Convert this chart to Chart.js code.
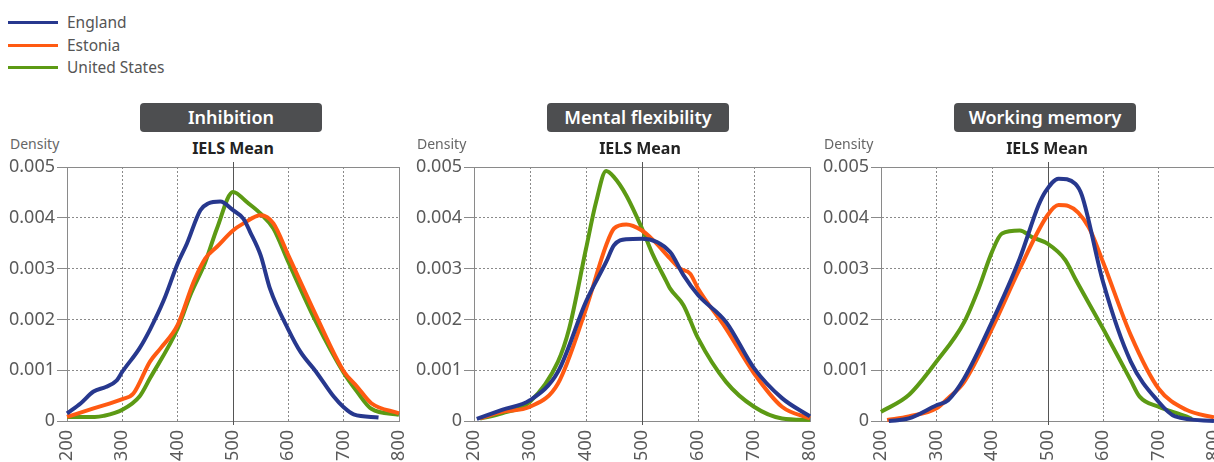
<!DOCTYPE html>
<html>
<head>
<meta charset="utf-8">
<script src="https://cdn.jsdelivr.net/npm/chart.js@4.4.0/dist/chart.umd.min.js"></script>
<style>
html,body{margin:0;padding:0;background:#fff;overflow:hidden;}
body{width:1214px;height:462px;position:relative;font-family:"Noto Sans",sans-serif;}
.leg{position:absolute;left:8px;font-size:15.5px;color:#555;height:20px;line-height:20px;}
.leg i{position:absolute;left:0;top:9px;width:50px;height:3px;}
.leg span{position:absolute;left:59px;top:0;white-space:nowrap;}
.box{position:absolute;top:103px;width:182px;height:29px;line-height:28px;background:#4d4e50;border-radius:4px;color:#fff;font-size:18px;font-weight:600;text-align:center;}
.sub{position:absolute;top:137px;width:200px;text-align:center;font-weight:bold;font-size:16px;color:#222;}
.dens{position:absolute;top:134px;font-size:14px;color:#666;}
canvas{position:absolute;}
</style>
</head>
<body>
<div id="legend"></div>
<div id="panels"></div>
<script>
// valeurs (densité)
const seriesNames = ['England', 'Estonia', 'United States'];
const seriesColors = ['#27388e', '#ff5a12', '#5c9a14'];
const panelTitles = ['Inhibition', 'Mental flexibility', 'Working memory'];
const xTicks = [200, 300, 400, 500, 600, 700, 800];
const yTicks = [0, 0.001, 0.002, 0.003, 0.004, 0.005];

// Inhibition
const inhEngX = [200,225,248,270,290,300,331,350,375,400,417,441,455,477,500,519,531,550,567,600,622,650,682,700,718,763];
const inhEngY = [0.00015,0.00035,0.00058,0.00067,0.0008,0.00097,0.00143,0.0018,0.00238,0.0031,0.0035,0.00415,0.00428,0.00432,0.00415,0.00398,0.00372,0.00326,0.0026,0.0018,0.00136,0.00097,0.00048,0.00027,0.00013,0.00007];
const inhEstX = [200,248,300,320,350,369,400,429,450,471,500,519,550,573,600,650,700,724,750,800];
const inhEstY = [0.00008,0.00025,0.00043,0.00054,0.00117,0.00143,0.00189,0.00274,0.0032,0.00343,0.00375,0.00389,0.00405,0.00389,0.00326,0.00208,0.00098,0.00068,0.00035,0.00015];
const inhUsaX = [200,250,266,300,331,350,400,423,450,471,500,507,525,550,573,600,650,700,724,750,800];
const inhUsaY = [0.00008,0.00008,0.0001,0.00022,0.00048,0.00084,0.00182,0.00248,0.00313,0.00379,0.00451,0.00448,0.00431,0.00408,0.00379,0.00313,0.00195,0.00095,0.00058,0.00024,0.00012];

// Mental flexibility
const menEngX = [205,250,300,350,400,436,450,472,500,550,574,600,650,700,750,800];
const menEngY = [0.00004,0.00022,0.00041,0.00097,0.00235,0.00313,0.00346,0.00358,0.00359,0.00333,0.00287,0.00248,0.00195,0.00104,0.00045,0.00009];
const menEstX = [211,250,300,350,400,436,450,472,500,520,550,568,586,600,650,700,750,800];
const menEstY = [0.00005,0.00018,0.00028,0.00074,0.00221,0.00346,0.00379,0.00387,0.00375,0.00356,0.0032,0.003,0.0029,0.00261,0.00182,0.00094,0.00028,0.00005];
const menUsaX = [211,250,300,350,370,400,418,436,450,472,500,520,544,550,574,600,650,700,750,800];
const menUsaY = [0.00005,0.00015,0.00038,0.00117,0.00182,0.00339,0.00431,0.00492,0.0048,0.00444,0.00379,0.00326,0.00274,0.00261,0.00228,0.00163,0.00077,0.00028,0.00005,0.00002];

// Working memory
const worEngX = [214,250,300,321,350,400,450,484,496,520,550,562,600,650,700,730,800];
const worEngY = [0,0.00005,0.00031,0.00041,0.00084,0.00195,0.0032,0.00425,0.00451,0.00477,0.00467,0.00444,0.00274,0.00117,0.00038,0.00009,0];
const worEstX = [211,250,300,321,350,400,450,500,520,538,574,600,650,700,750,800];
const worEstY = [0.00002,0.00009,0.00025,0.00045,0.00077,0.00182,0.003,0.00405,0.00425,0.00423,0.00382,0.00313,0.00169,0.00064,0.00022,0.00007];
const worUsaX = [200,250,300,350,376,400,418,450,472,500,532,550,600,650,666,700,750,760];
const worUsaY = [0.00018,0.00051,0.00117,0.00195,0.00261,0.00333,0.00369,0.00375,0.00362,0.00349,0.00317,0.0028,0.00182,0.0008,0.00048,0.00028,0.00009,0.00004];

const panelSeries = [
  [[inhEngX, inhEngY], [inhEstX, inhEstY], [inhUsaX, inhUsaY]],
  [[menEngX, menEngY], [menEstX, menEstY], [menUsaX, menUsaY]],
  [[worEngX, worEngY], [worEstX, worEstY], [worUsaX, worUsaY]]
];

// légende
const legend = document.getElementById('legend');
seriesNames.forEach((n, i) => {
  const d = document.createElement('div');
  d.className = 'leg';
  d.style.top = (12 + i * 22.5) + 'px';
  d.innerHTML = '<i style="background:' + seriesColors[i] + '"></i><span>' + n + '</span>';
  legend.appendChild(d);
});

// cadre + ligne 500
const framePlugin = {
  id: 'frame',
  beforeDatasetsDraw(chart) {
    const a = chart.chartArea, ctx = chart.ctx, xs = chart.scales.x;
    ctx.save();
    ctx.strokeStyle = '#8a8a8a';
    ctx.lineWidth = 1;
    ctx.setLineDash([]);
    ctx.strokeRect(a.left + 0.5, a.top + 0.5, a.right - a.left, a.bottom - a.top);
    const x5 = Math.round(xs.getPixelForValue(500)) + 0.5;
    ctx.strokeStyle = '#555';
    ctx.beginPath();
    ctx.moveTo(x5, a.top - 5);
    ctx.lineTo(x5, a.bottom + 4);
    ctx.stroke();
    ctx.restore();
  }
};

const panels = document.getElementById('panels');
const offs = [0, 407, 814];
panelTitles.forEach((t, p) => {
  const o = offs[p];
  const box = document.createElement('div');
  box.className = 'box'; box.style.left = (140 + o) + 'px'; box.textContent = t;
  panels.appendChild(box);
  const sub = document.createElement('div');
  sub.className = 'sub'; sub.style.left = (133 + o) + 'px'; sub.textContent = 'IELS Mean';
  panels.appendChild(sub);
  const den = document.createElement('div');
  den.className = 'dens'; den.style.left = (10 + o) + 'px'; den.textContent = 'Density';
  panels.appendChild(den);

  const cv = document.createElement('canvas');
  const w = p === 2 ? 402 : 410;
  cv.width = w; cv.height = 320;
  cv.style.left = (p === 0 ? 0 : o - 2) + 'px';
  cv.style.top = '150px';
  cv.style.width = w + 'px'; cv.style.height = '320px';
  panels.appendChild(cv);

  const yw = p === 0 ? 67 : 69;
  const padR = p === 0 ? 11 : (p === 1 ? 5 : 0);

  new Chart(cv.getContext('2d'), {
    type: 'line',
    data: {
      datasets: panelSeries[p].map((s, i) => ({
        label: seriesNames[i],
        data: s[0].map((x, k) => ({ x: x, y: s[1][k] })),
        borderColor: seriesColors[i],
        borderWidth: 4,
        pointRadius: 0,
        fill: false,
        cubicInterpolationMode: 'monotone',
        clip: false
      }))
    },
    plugins: [framePlugin],
    options: {
      responsive: false,
      animation: false,
      layout: { padding: { top: 17, right: padR, left: 0, bottom: 0 } },
      plugins: { legend: { display: false }, tooltip: { enabled: false } },
      scales: {
        x: {
          type: 'linear', min: 200, max: 800,
          afterBuildTicks: s => { s.ticks = xTicks.map(v => ({ value: v })); },
          afterFit: s => { s.height = 49; s.paddingLeft = 0; s.paddingRight = 0; },
          ticks: { color: '#5a5a5a', font: { family: 'Noto Sans', size: 18 }, maxRotation: 90, minRotation: 90, padding: 9 },
          grid: {
            drawTicks: false,
            color: c => (c.tick && [300, 400, 600, 700].includes(c.tick.value)) ? '#8a8a8a' : 'rgba(0,0,0,0)'
          },
          border: { display: true, color: '#8a8a8a', dash: [2, 2] }
        },
        y: {
          min: 0, max: 0.005,
          afterBuildTicks: s => { s.ticks = yTicks.map(v => ({ value: v })); },
          afterFit: s => { s.width = yw; s.paddingTop = 0; s.paddingBottom = 0; },
          ticks: {
            color: '#5a5a5a', font: { family: 'Noto Sans', size: 18 }, padding: 2,
            callback: v => v === 0 ? '0' : v.toFixed(3)
          },
          grid: {
            tickLength: 10,
            color: c => (c.tick && c.tick.value > 0 && c.tick.value < 0.005) ? '#8a8a8a' : 'rgba(0,0,0,0)',
            tickColor: '#8a8a8a',
            tickBorderDash: [1, 0]
          },
          border: { display: true, color: '#8a8a8a', dash: [2, 2] }
        }
      }
    }
  });
});
</script>
</body>
</html>
